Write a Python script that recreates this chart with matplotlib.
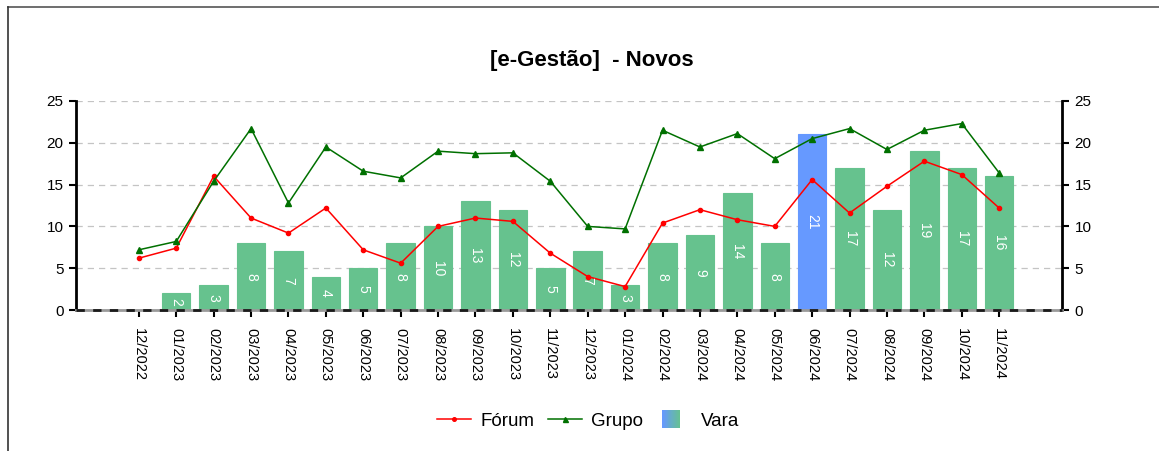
import matplotlib
matplotlib.use("Agg")
import matplotlib.pyplot as plt
import numpy as np
from matplotlib.lines import Line2D
from matplotlib.patches import Rectangle
from matplotlib.legend_handler import HandlerBase
from matplotlib.colors import to_rgb

plt.rcParams['font.family'] = ['Liberation Sans', 'DejaVu Sans']

categories = ["12/2022", "01/2023", "02/2023", "03/2023", "04/2023", "05/2023",
              "06/2023", "07/2023", "08/2023", "09/2023", "10/2023", "11/2023",
              "12/2023", "01/2024", "02/2024", "03/2024", "04/2024", "05/2024",
              "06/2024", "07/2024", "08/2024", "09/2024", "10/2024", "11/2024"]
vara = [0, 2, 3, 8, 7, 4, 5, 8, 10, 13, 12, 5, 7, 3, 8, 9, 14, 8, 21, 17, 12, 19, 17, 16]
forum = [6.2, 7.4, 16.0, 11.0, 9.2, 12.2, 7.2, 5.6, 10.0, 11.0, 10.6, 6.8,
         4.0, 2.8, 10.4, 12.0, 10.8, 10.0, 15.6, 11.6, 14.8, 17.8, 16.2, 12.2]
grupo = [7.2, 8.2, 15.4, 21.7, 12.8, 19.5, 16.6, 15.8, 19.0, 18.7, 18.8, 15.4,
         10.0, 9.7, 21.5, 19.5, 21.1, 18.1, 20.5, 21.7, 19.2, 21.5, 22.3, 16.4]
highlight = "06/2024"
title = "[e-Gestão]  - Novos"

BAR_GREEN = "#66c28e"
BAR_BLUE = "#6699ff"
RED = "#ff0000"
GREEN = "#007000"

W, H = 1159, 451
fig = plt.figure(figsize=(W / 100, H / 100), dpi=100)
ax = fig.add_axes([76 / W, 1 - 310 / H, (1062 - 76) / W, (310 - 101) / H])

x = np.arange(len(categories))
colors = [BAR_BLUE if c == highlight else BAR_GREEN for c in categories]
bars = ax.bar(x, vara, width=0.76, color=colors, edgecolor=colors, linewidth=0.8, zorder=2)
for xi, v in zip(x, vara):
    if v > 0:
        ax.text(xi, v / 2, str(v), rotation=270, ha='center', va='center',
                color='white', fontsize=10, zorder=5)

ax.plot(x, forum, color=RED, lw=1.1, marker='o', ms=3.0, zorder=4, label="Fórum")
ax.plot(x, grupo, color=GREEN, lw=1.1, marker='^', ms=4.0, zorder=4, label="Grupo")

ax.set_xlim(-1.68, len(categories) - 1 + 1.68)
ax.set_ylim(0, 25)
ax.set_yticks([0, 5, 10, 15, 20, 25])
ax.set_xticks(x)
ax.set_xticklabels(categories, rotation=270, fontsize=10.5)

for yv in [5, 10, 15, 20, 25]:
    ax.axhline(yv, color='#c4c4c4', lw=0.9, ls=(0, (5, 4)), zorder=1)
ax.axhline(0, color='#9a9a9a', lw=2.0, zorder=3, clip_on=False)
ax.axhline(0, color='#1a1a1a', lw=2.0, ls=(0, (3, 3)), zorder=3, clip_on=False)

for s in ['top', 'bottom']:
    ax.spines[s].set_visible(False)
for s in ['left', 'right']:
    ax.spines[s].set_linewidth(2.0)
    ax.spines[s].set_color('black')

ax.tick_params(axis='y', which='both', left=True, right=True, labelleft=True,
               labelright=True, direction='out', length=5, width=1.5,
               labelsize=11, pad=4)
ax.tick_params(axis='x', direction='out', length=5, width=1.5, pad=8)


class GradientHandler(HandlerBase):
    def create_artists(self, legend, orig_handle, xdescent, ydescent, width,
                       height, fontsize, trans):
        c1 = np.array(to_rgb(BAR_BLUE))
        c2 = np.array(to_rgb(BAR_GREEN))
        side = height * 1.4
        x0 = -xdescent + (width - side) * 0.3
        y0 = -ydescent + (height - side) / 2
        n = 20
        arts = []
        for i in range(n):
            t = i / (n - 1)
            col = c1 * (1 - t) + c2 * t
            r = Rectangle((x0 + side * i / n, y0), side / n * 1.05, side,
                          facecolor=col, edgecolor='none', transform=trans)
            arts.append(r)
        return arts


vara_handle = Rectangle((0, 0), 1, 1)
handles = [Line2D([], [], color=RED, lw=1.1, marker='o', ms=2.6),
           Line2D([], [], color=GREEN, lw=1.1, marker='^', ms=3.6),
           vara_handle]
labels = ["Fórum", "Grupo", "Vara"]
fig.legend(handles, labels, loc='center', bbox_to_anchor=(588 / W, 1 - 421 / H),
           ncol=3, frameon=False, fontsize=13.5, handlelength=1.8,
           handletextpad=0.5, columnspacing=0.75,
           handler_map={Rectangle: GradientHandler()})

fig.text(592 / W, 1 - 66 / H, title, ha='center', va='baseline',
         fontsize=16, fontweight='bold')

# outer frame (top and left edges)
fig.add_artist(Line2D([8 / W, 1.0], [1 - 7 / H, 1 - 7 / H], color='#555555', lw=1.2,
                      transform=fig.transFigure))
fig.add_artist(Line2D([8 / W, 8 / W], [0, 1 - 7 / H], color='#333333', lw=1.2,
                      transform=fig.transFigure))

fig.savefig("out.png", dpi=100)
